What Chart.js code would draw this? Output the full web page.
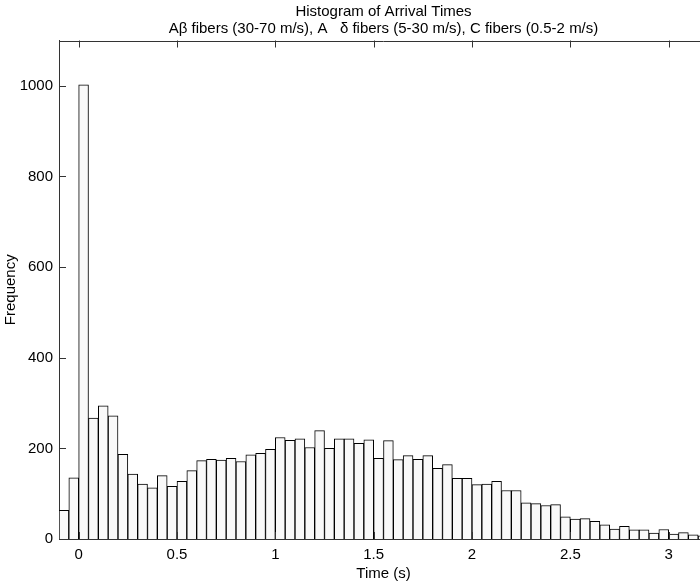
<!DOCTYPE html>
<html>
<head>
<meta charset="utf-8">
<script src="https://cdn.jsdelivr.net/npm/chart.js@4/dist/chart.umd.min.js"></script>
<style>
  html, body { margin: 0; padding: 0; background: #fff; overflow: hidden; width: 700px; height: 587px; }
  #wrap { width: 708px; height: 587px; }
</style>
</head>
<body>
<div id="wrap"><canvas id="c" width="708" height="587"></canvas></div>
<script>
// ---- data ----
const titleLines = ["Histogram of Arrival Times", "A\u03B2 fibers (30-70 m/s), A   \u03B4 fibers (5-30 m/s), C fibers (0.5-2 m/s)"];
const xLabel = "Time (s)";
const yLabel = "Frequency";
const binCenters = [
  -0.075, -0.025, 0.025, 0.075, 0.125, 0.175, 0.225, 0.275, 0.325, 0.375,
  0.425, 0.475, 0.525, 0.575, 0.625, 0.675, 0.725, 0.775, 0.825, 0.875,
  0.925, 0.975, 1.025, 1.075, 1.125, 1.175, 1.225, 1.275, 1.325, 1.375,
  1.425, 1.475, 1.525, 1.575, 1.625, 1.675, 1.725, 1.775, 1.825, 1.875,
  1.925, 1.975, 2.025, 2.075, 2.125, 2.175, 2.225, 2.275, 2.325, 2.375,
  2.425, 2.475, 2.525, 2.575, 2.625, 2.675, 2.725, 2.775, 2.825, 2.875,
  2.925, 2.975, 3.025, 3.075, 3.125, 3.175
];
const frequencies = [
  63, 135, 1002, 267, 294, 272, 187, 143, 121, 113,
  140, 116, 127, 151, 173, 176, 174, 178, 171, 186,
  189, 198, 224, 218, 221, 202, 239, 200, 221, 221,
  211, 219, 178, 217, 175, 184, 176, 184, 156, 164,
  134, 134, 120, 121, 127, 107, 107, 80, 78, 74,
  76, 49, 44, 45, 39, 31, 22, 28, 20, 20,
  13, 21, 11, 14, 9, 7
];
const xTickValues = [0, 0.5, 1, 1.5, 2, 2.5, 3];
const yTickValues = [0, 200, 400, 600, 800, 1000];

const FONT = "'Liberation Sans', Arial, Helvetica, sans-serif";
const AXIS_COLOR = '#333';

const boxTicks = {
  id: 'boxTicks',
  afterDraw(chart) {
    const {ctx, chartArea: a, scales: {x, y}} = chart;
    ctx.save();
    ctx.strokeStyle = AXIS_COLOR;
    ctx.lineWidth = 1;
    ctx.beginPath();
    ctx.moveTo(a.left, Math.round(a.top) + 0.5);
    ctx.lineTo(a.right, Math.round(a.top) + 0.5);
    const L = 7;
    x.ticks.forEach(t => {
      const px = Math.round(x.getPixelForValue(t.value)) + 0.5;
      ctx.moveTo(px, a.top); ctx.lineTo(px, a.top + L);
      ctx.moveTo(px, a.bottom); ctx.lineTo(px, a.bottom - L);
    });
    y.ticks.forEach(t => {
      const py = Math.round(y.getPixelForValue(t.value)) + 0.5;
      ctx.moveTo(a.left, py); ctx.lineTo(a.left + L, py);
    });
    ctx.stroke();
    ctx.restore();
  }
};

new Chart(document.getElementById('c'), {
  type: 'bar',
  data: {
    datasets: [{
      data: binCenters.map((c, i) => ({x: c, y: frequencies[i]})),
      backgroundColor: '#f9f9f9',
      borderColor: '#000',
      borderWidth: 1,
      barPercentage: 1.0,
      categoryPercentage: 1.0
    }]
  },
  options: {
    responsive: false,
    animation: false,
    devicePixelRatio: 1,
    layout: { padding: 0 },
    plugins: {
      legend: { display: false },
      tooltip: { enabled: false },
      title: {
        display: true,
        text: titleLines,
        fullSize: false,
        color: '#000',
        font: { family: FONT, size: 15, weight: 'normal', lineHeight: 1.15 },
        padding: { top: 3, bottom: 3 }
      }
    },
    scales: {
      x: {
        type: 'linear',
        offset: false,
        min: -0.1,
        max: 3.2,
        afterFit(s) { s.height = 48; },
        afterBuildTicks(s) { s.ticks = xTickValues.map(v => ({value: v})); },
        grid: { display: false, drawTicks: false },
        border: { display: true, color: AXIS_COLOR, width: 1 },
        ticks: {
          color: '#000',
          padding: 7,
          maxRotation: 0,
          autoSkip: false,
          font: { family: FONT, size: 15 },
          callback: v => String(v)
        },
        title: {
          display: true,
          text: xLabel,
          color: '#000',
          font: { family: FONT, size: 15, lineHeight: 1.2 },
          padding: { top: 0, bottom: 4 }
        }
      },
      y: {
        min: 0,
        max: 1100,
        afterFit(s) { s.width = 59; },
        afterBuildTicks(s) { s.ticks = yTickValues.map(v => ({value: v})); },
        grid: { display: false, drawTicks: false },
        border: { display: true, color: AXIS_COLOR, width: 1 },
        ticks: {
          color: '#000',
          padding: 6,
          font: { family: FONT, size: 15 },
          callback: v => String(v)
        },
        title: {
          display: true,
          text: yLabel,
          color: '#000',
          font: { family: FONT, size: 15, lineHeight: 1.2 },
          padding: { top: 2, bottom: 0 }
        }
      }
    }
  },
  plugins: [boxTicks]
});
</script>
</body>
</html>
